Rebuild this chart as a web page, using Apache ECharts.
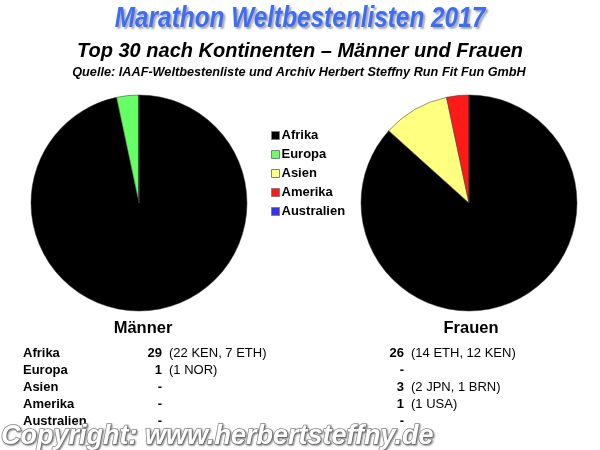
<!DOCTYPE html>
<html><head><meta charset="utf-8">
<script src="https://cdn.jsdelivr.net/npm/echarts@6/dist/echarts.min.js"></script>
<style>html,body{margin:0;padding:0;background:#fff}#c{width:600px;height:450px}</style>
</head><body><div id="c"></div>
<script>
const continents = ['Afrika','Europa','Asien','Amerika','Australien'];
const colors = ['#000000','#66ff66','#ffff80','#ff1a1a','#3333ff'];
const menValues = [29,1,0,0,0];
const womenValues = [26,0,3,1,0];
const menDetails = ['(22 KEN, 7 ETH)','(1 NOR)','','',''];
const womenDetails = ['(14 ETH, 12 KEN)','','(2 JPN, 1 BRN)','(1 USA)',''];
const titleText = 'Marathon Weltbestenlisten 2017';
const subtitleText = 'Top 30 nach Kontinenten \u2013 M\u00e4nner und Frauen';
const sourceText = 'Quelle: IAAF-Weltbestenliste und Archiv Herbert Steffny Run Fit Fun GmbH';
const groupNames = ['M\u00e4nner','Frauen'];
const copyrightText = 'Copyright: www.herbertsteffny.de';

const chart = echarts.init(document.getElementById('c'), null, {renderer:'canvas'});
const F = 'Arial, "Liberation Sans", sans-serif';

function pieData(vals){ return continents.map((n,i)=>({name:n, value:vals[i], itemStyle:{color:colors[i]}})); }

const graphics = [];
graphics.push({type:'text', x:300, y:4, scaleX:0.84, originX:0, originY:0, style:{text:titleText, font:'italic bold 29px '+F, fill:'#3d6cf5', align:'center', textShadowColor:'rgba(0,0,0,0.35)', textShadowOffsetX:2, textShadowOffsetY:2, textShadowBlur:2}});
graphics.push({type:'text', x:300, y:41, style:{text:subtitleText, font:'italic bold 20px '+F, fill:'#000', align:'center'}});
graphics.push({type:'text', x:299, y:66, style:{text:sourceText, font:'italic bold 12.7px '+F, fill:'#000', align:'center'}});
graphics.push({type:'text', x:143, y:320, style:{text:groupNames[0], font:'bold 16.5px '+F, fill:'#000', align:'center'}});
graphics.push({type:'text', x:471, y:320, style:{text:groupNames[1], font:'bold 16.5px '+F, fill:'#000', align:'center'}});
continents.forEach((n,i)=>{
  const y = 347 + i*17;
  graphics.push({type:'text', x:23, y:y, style:{text:n, font:'bold 13px '+F, fill:'#000'}});
  graphics.push({type:'text', x:162, y:y, style:{text: menValues[i] ? String(menValues[i]) : '-', font:'bold 13px '+F, fill:'#000', align:'right'}});
  if (menDetails[i]) graphics.push({type:'text', x:169, y:y, style:{text:menDetails[i], font:'13px '+F, fill:'#000'}});
  graphics.push({type:'text', x:404, y:y, style:{text: womenValues[i] ? String(womenValues[i]) : '-', font:'bold 13px '+F, fill:'#000', align:'right'}});
  if (womenDetails[i]) graphics.push({type:'text', x:411, y:y, style:{text:womenDetails[i], font:'13px '+F, fill:'#000'}});
});
graphics.push({type:'text', x:1, y:423, z:100, style:{text:copyrightText, font:'italic bold 27px '+F, fill:'#ffffff', stroke:'#8a8a8a', lineWidth:1.5, textShadowColor:'rgba(0,0,0,0.4)', textShadowOffsetX:1, textShadowOffsetY:1, textShadowBlur:2}});

chart.setOption({
  backgroundColor:'#fff',
  animation:false,
  legend:{
    orient:'vertical', left:266, top:124, itemWidth:8, itemHeight:8, itemGap:6,
    icon:'rect', data:continents,
    itemStyle:{borderColor:'#808080', borderWidth:1},
    textStyle:{fontFamily:F, fontWeight:'bold', fontSize:13, color:'#000', padding:[0,0,0,-3]}
  },
  series:[
    {type:'pie', center:[139,203], radius:[0,108], startAngle:90, clockwise:true, label:{show:false}, labelLine:{show:false},
     itemStyle:{borderColor:'#333', borderWidth:0.5}, emphasis:{disabled:true}, data:pieData(menValues)},
    {type:'pie', center:[469,203], radius:[0,108], startAngle:90, clockwise:true, label:{show:false}, labelLine:{show:false},
     itemStyle:{borderColor:'#333', borderWidth:0.5}, emphasis:{disabled:true}, data:pieData(womenValues)}
  ],
  graphic:graphics
});
</script></body></html>
